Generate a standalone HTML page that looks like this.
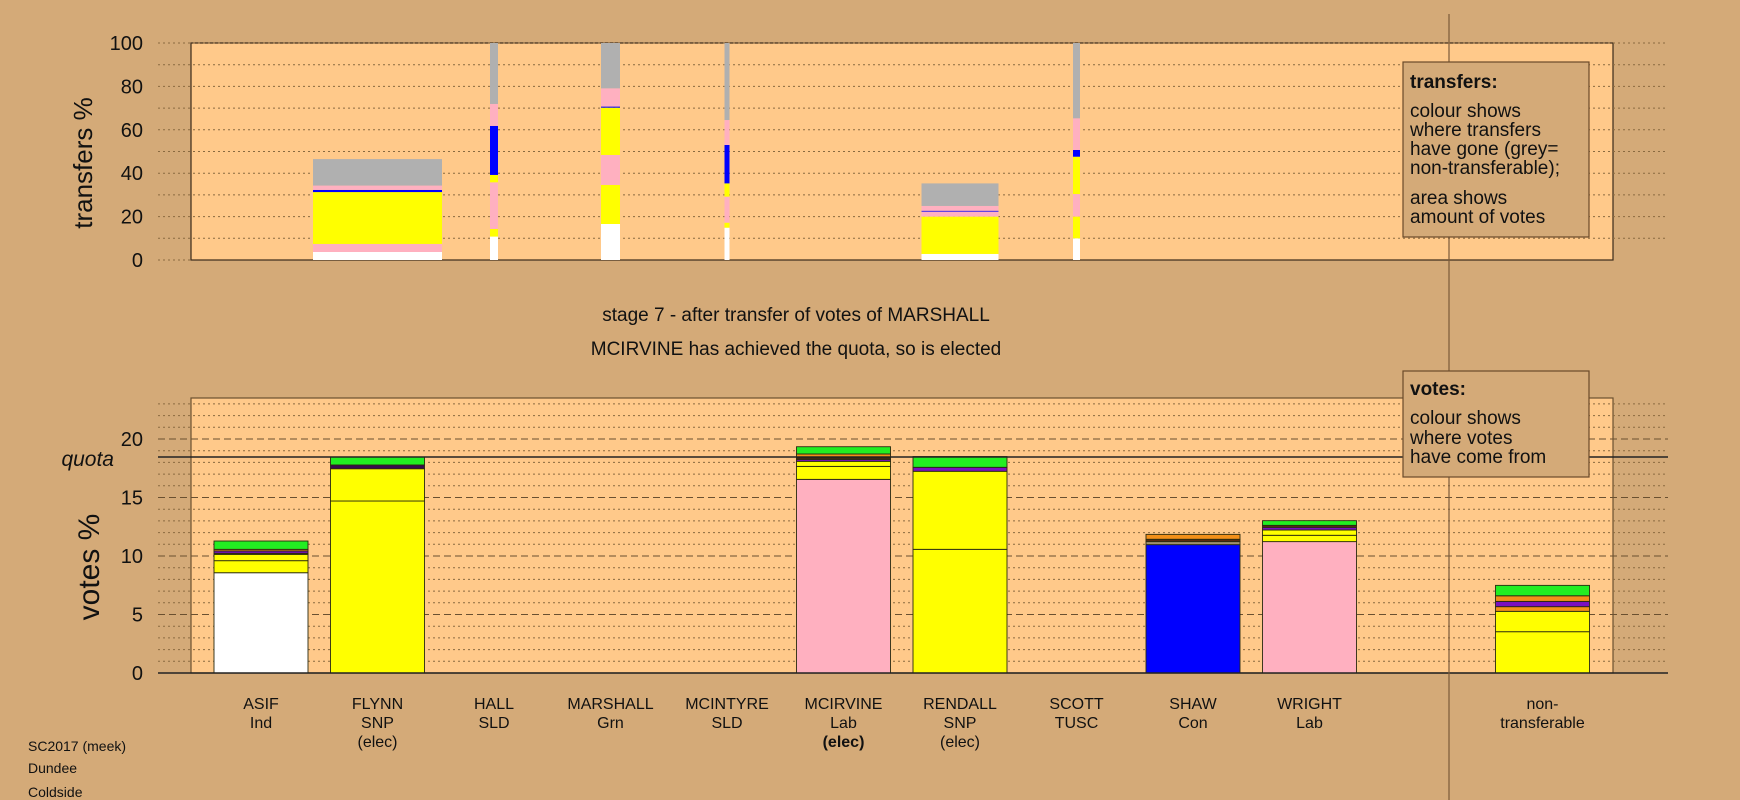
<!DOCTYPE html>
<html><head><meta charset="utf-8"><style>
html,body{margin:0;padding:0;background:#D4AA78;}
svg{display:block;font-family:"Liberation Sans",sans-serif;}
</style></head><body>
<svg id="chart" width="1740" height="800" viewBox="0 0 1740 800" xmlns="http://www.w3.org/2000/svg">
<rect x="0" y="0" width="1740" height="800" fill="#D4AA78"/>
<rect x="191" y="43" width="1422" height="217" fill="#FFC98A" stroke="#3a2a1a" stroke-width="1.2"/>
<rect x="191" y="398" width="1422" height="275" fill="#FFC98A" stroke="#6a5030" stroke-width="1.2"/>
<g id="grid"></g>
<g id="topbars"></g>
<g id="botbars"></g>
<g id="axes"></g>
<line x1="1449" y1="14" x2="1449" y2="800" stroke="#7a5a3a" stroke-width="1.2"/>
<text transform="translate(92,163) rotate(-90)" text-anchor="middle" font-size="26" fill="#111">transfers %</text>
<text transform="translate(99,567) rotate(-90)" text-anchor="middle" font-size="30" fill="#111">votes %</text>
<text x="114" y="466" text-anchor="end" font-size="21" font-style="italic" fill="#111">quota</text>
<text x="796" y="321" text-anchor="middle" font-size="19" fill="#111">stage 7 - after transfer of votes of MARSHALL</text>
<text x="796" y="355" text-anchor="middle" font-size="19" fill="#111">MCIRVINE has achieved the quota, so is elected</text>
<g>
<rect x="1403" y="62" width="186" height="175" fill="#D4AA78" stroke="#6a4a2a" stroke-width="1.2"/>
<text x="1410" font-size="19" fill="#111">
<tspan x="1410" y="88" font-weight="bold">transfers:</tspan>
<tspan x="1410" y="117">colour shows</tspan>
<tspan x="1410" y="136">where transfers</tspan>
<tspan x="1410" y="155">have gone (grey=</tspan>
<tspan x="1410" y="174">non-transferable);</tspan>
<tspan x="1410" y="204">area shows</tspan>
<tspan x="1410" y="223">amount of votes</tspan>
</text>
</g>
<g>
<rect x="1403" y="371" width="186" height="106" fill="#D4AA78" stroke="#6a4a2a" stroke-width="1.2"/>
<text font-size="19" fill="#111">
<tspan x="1410" y="395" font-weight="bold">votes:</tspan>
<tspan x="1410" y="424">colour shows</tspan>
<tspan x="1410" y="444">where votes</tspan>
<tspan x="1410" y="463">have come from</tspan>
</text>
</g>
<g id="labels"></g>
<text x="28" y="751" font-size="14" fill="#111">SC2017 (meek)</text>
<text x="28" y="773" font-size="14" fill="#111">Dundee</text>
<text x="28" y="797" font-size="14" fill="#111">Coldside</text>
</svg>
<script>
const candidates = ["ASIF","FLYNN","HALL","MARSHALL","MCINTYRE","MCIRVINE","RENDALL","SCOTT","SHAW","WRIGHT","non-transferable"];
const parties = ["Ind","SNP","SLD","Grn","SLD","Lab","SNP","TUSC","Con","Lab",""];
const status = ["","(elec)","","","","(elec)","(elec)","","","",""];
const quota = 18.46;
const topTicks = [0,20,40,60,80,100];
const botTicks = [0,5,10,15,20];
const colors = {W:"#FFFFFF",Y:"#FFFF00",P:"#FFB0C0",B:"#0000FF",G:"#B0B0B0",GR:"#22EE22",OR:"#F39019",PU:"#7A10C0",BR:"#5A2A10",T:"#A09070",D:"#3A0A50"};
const voteASIF = [["W",8.57],["Y",1.03],["Y",0.54],["BR",0.09],["PU",0.2],["OR",0.14],["GR",0.71]];
const voteFLYNN = [["Y",14.7],["Y",2.76],["D",0.32],["GR",0.68]];
const voteMCIRVINE = [["P",16.55],["Y",1.11],["Y",0.43],["PU",0.17],["BR",0.12],["OR",0.34],["GR",0.62]];
const voteRENDALL = [["Y",10.57],["Y",6.67],["PU",0.34],["GR",0.92]];
const voteSHAW = [["B",10.97],["T",0.26],["BR",0.2],["OR",0.42]];
const voteWRIGHT = [["P",11.23],["Y",0.54],["Y",0.45],["PU",0.23],["BR",0.17],["GR",0.4]];
const voteNT = [["Y",3.53],["Y",1.74],["OR",0.4],["PU",0.45],["OR",0.48],["GR",0.89]];
const voteSegments = [voteASIF,voteFLYNN,[],[],[],voteMCIRVINE,voteRENDALL,[],voteSHAW,voteWRIGHT,voteNT];
const transferFrom = [1,2,3,4,6,7];
const transferVolume = [129,8,19,5,77,7];
const trFLYNN = [["W",3.7],["P",3.7],["Y",23.9],["B",1.0],["P",2.0],["G",12.2]];
const trHALL = [["W",10.8],["Y",3.5],["P",21.5],["Y",3.4],["B",22.6],["P",10.1],["G",28.1]];
const trMARSHALL = [["W",16.6],["Y",18.0],["P",13.8],["Y",21.8],["B",0.5],["P",8.4],["G",20.9]];
const trMCINTYRE = [["W",14.9],["Y",2.3],["P",12.0],["Y",6.1],["B",17.7],["P",11.5],["G",35.5]];
const trRENDALL = [["W",2.8],["Y",17.2],["P",2.3],["B",0.4],["P",2.2],["G",10.4]];
const trSCOTT = [["W",10],["Y",10],["P",10.4],["Y",17.2],["B",3.1],["P",14.6],["G",34.7]];
const transferSegments = [trFLYNN,trHALL,trMARSHALL,trMCINTYRE,trRENDALL,trSCOTT];

const NS="http://www.w3.org/2000/svg";
function mk(tag,attrs,parent){const e=document.createElementNS(NS,tag);for(const k in attrs)e.setAttribute(k,attrs[k]);parent.appendChild(e);return e;}
const yTop=v=>260-v*2.17;
const yBot=v=>673-v*11.7;
const slotX=i=>214+(i<10?i:11)*116.5;
const barW=94;
const grid=document.getElementById('grid'),axes=document.getElementById('axes');
for(let v=10;v<=100;v+=10){const l=mk('line',{x1:158,x2:1668,y1:yTop(v),y2:yTop(v),stroke:'#8a6a40','stroke-width':1,'stroke-dasharray':'2,3'},grid);

}
for(let v=1;v<=23;v++){const d=v%5===0;const l=mk('line',{x1:158,x2:1668,y1:yBot(v),y2:yBot(v),stroke:d?'#6a5030':'#8a6a40','stroke-width':1,'stroke-dasharray':d?'7,4':'2,3'},grid);

}
let z=mk('line',{x1:158,x2:191,y1:260,y2:260,stroke:'#8a6a40','stroke-dasharray':'2,3'},axes);


let z2=mk('line',{x1:158,x2:1668,y1:673,y2:673,stroke:'#222','stroke-width':1.5},axes);


let q=mk('line',{x1:158,x2:1668,y1:yBot(quota),y2:yBot(quota),stroke:'#222','stroke-width':1.5},axes);


topTicks.forEach(v=>{const t=mk('text',{x:143,y:yTop(v)+7,'text-anchor':'end','font-size':20,fill:'#111'},axes);t.textContent=v;

});
botTicks.forEach(v=>{const t=mk('text',{x:143,y:yBot(v)+7,'text-anchor':'end','font-size':20,fill:'#111'},axes);t.textContent=v;

});
const tb=document.getElementById('topbars');
transferFrom.forEach((ci,k)=>{const cx=slotX(ci)+barW/2,w=transferVolume[k];let acc=0;
transferSegments[k].forEach(([c,v])=>{const r=mk('rect',{x:cx-w/2,y:yTop(acc+v),width:w,height:v*2.17,fill:colors[c]},tb);

acc+=v;});});
const bb=document.getElementById('botbars');
voteSegments.forEach((segs,i)=>{let acc=0;const x=slotX(i);
segs.forEach(([c,v])=>{const r=mk('rect',{x:x,y:yBot(acc+v),width:barW,height:v*11.7,fill:colors[c],stroke:'#2a2a10','stroke-width':0.9},bb);

acc+=v;});});
const lb=document.getElementById('labels');
candidates.forEach((n,i)=>{const cx=slotX(i)+barW/2;
const lines=i===10?["non-","transferable"]:[n,parties[i],status[i]];
lines.forEach((s,j)=>{if(!s)return;const t=mk('text',{x:cx,y:709+j*19,'text-anchor':'middle','font-size':16,fill:'#111'},lb);
if(i===5&&j===2)t.setAttribute('font-weight','bold');t.textContent=s;

});});
</script>
</body></html>
